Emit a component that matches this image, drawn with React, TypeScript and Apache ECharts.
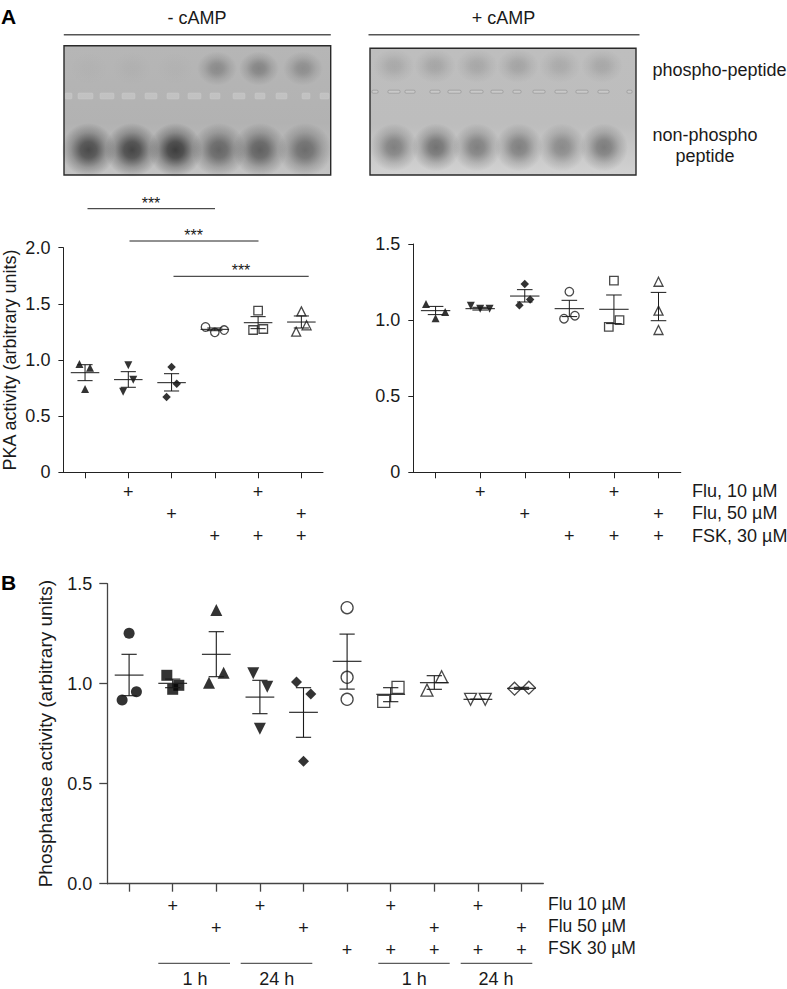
import React, { useEffect, useRef } from "react";
import * as echarts from "echarts";

const FONT = "'Liberation Sans', Arial, sans-serif";
const INK = "#1a1a1a";

// ---- treatment flags ----
const pkaFlu10 = ["", "+", "", "", "+", ""];
const pkaFlu50 = ["", "", "+", "", "", "+"];
const pkaFsk = ["", "", "", "+", "+", "+"];
const phFlu10 = ["", "+", "", "+", "", "", "+", "", "+", ""];
const phFlu50 = ["", "", "+", "", "+", "", "", "+", "", "+"];
const phFsk = ["", "", "", "", "", "+", "+", "+", "+", "+"];

// ---- PKA, - cAMP ----
const aLeftPoints = [
  [0.964, 0.93, 0.742],
  [0.953, 0.825, 0.718],
  [0.938, 0.789, 0.671],
  [1.294, 1.267, 1.246],
  [1.439, 1.267, 1.276],
  [1.433, 1.252, 1.309],
];
const aLeftJitter = [
  [-0.13, 0.115, 0],
  [0, 0.115, -0.12],
  [0, 0.12, -0.115],
  [-0.215, 0.215, 0],
  [0, -0.115, 0.12],
  [0, -0.12, 0.12],
];
const aLeftMean = [0.887, 0.825, 0.798, 1.273, 1.332, 1.338];
const aLeftUpper = [0.958, 0.896, 0.878, 1.285, 1.386, 1.392];
const aLeftLower = [0.816, 0.757, 0.724, 1.261, 1.279, 1.285];

// ---- PKA, + cAMP ----
const aRightPoints = [
  [1.106, 1.053, 1.012],
  [1.095, 1.075, 1.075],
  [1.237, 1.136, 1.097],
  [1.187, 1.029, 1.009],
  [1.259, 1.0, 0.955],
  [1.252, 1.062, 0.935],
];
const aRightJitter = [
  [-0.215, 0.215, 0],
  [-0.21, 0, 0.21],
  [0, 0.12, -0.12],
  [0, 0.125, -0.12],
  [0, 0.125, -0.115],
  [0, 0, 0],
];
const aRightMean = [1.062, 1.075, 1.158, 1.075, 1.071, null];
const aRightUpper = [1.09, 1.084, 1.2, 1.13, 1.165, 1.182];
const aRightLower = [1.036, 1.066, 1.119, 1.023, 0.977, 0.996];

// ---- Phosphatase ----
const bPoints = [
  [1.252, 0.96, 0.918],
  [1.042, 0.992, 0.972],
  [1.368, 1.055, 1.005],
  [1.052, 0.985, 0.775],
  [1.008, 0.948, 0.612],
  [1.38, 1.032, 0.922],
  [0.982, 0.912],
  [1.035, 0.968],
  [0.922, 0.922],
  [0.975, 0.98],
];
const bJitter = [
  [0, 0.168, -0.16],
  [-0.135, 0.14, 0],
  [0, 0.168, -0.168],
  [-0.153, 0.168, 0],
  [-0.16, 0.168, 0],
  [0, 0, 0],
  [0.168, -0.16],
  [0.168, -0.168],
  [-0.168, 0.168],
  [-0.16, 0.168],
];
const bMean = [1.043, 1.002, 1.147, 0.933, 0.857, 1.112, 0.947, 1.005, 0.922, 0.977];
const bUpper = [1.147, 1.023, 1.26, 1.017, 0.98, 1.248, 0.98, 1.04, 0.922, 0.982];
const bLower = [0.94, 0.98, 1.035, 0.85, 0.732, 0.973, 0.91, 0.972, 0.922, 0.972];

const aSymbols = ["triangle", "invTriangle", "diamond", "circle", "rect", "triangle"];
const aOpen = [false, false, false, true, true, true];
const aSizes = [8, 8, 8.5, 8.5, 8.5, 9];
const bSymbols = ["circle", "rect", "triangle", "invTriangle", "diamond", "circle", "rect", "triangle", "invTriangle", "diamond"];
const bOpen = [false, false, false, false, false, true, true, true, true, true];
const bSizes = [11, 11, 12, 12, 11, 12, 12, 12, 12, 13];

// ---- blot spots: lane x, intensity ----
const blot1Phospho = [[89, 0.02], [132, 0.03], [175, 0.02], [217, 0.28], [259, 0.32], [303, 0.26]];
const blot1Non = [[88.5, 0.72], [132, 0.75], [175.5, 0.8], [219, 0.55], [260, 0.58], [305, 0.5]];
const blot2Phospho = [[394, 0.13], [435, 0.15], [477, 0.14], [518, 0.16], [560, 0.12], [602, 0.14]];
const blot2Non = [[394, 0.42], [436, 0.5], [477, 0.42], [519, 0.42], [562, 0.36], [604, 0.44]];
const blot1Marks = [[65, 7], [78, 15], [100, 14], [122, 13], [145, 12], [167, 12], [188, 13], [210, 10], [233, 12], [255, 10], [276, 11], [302, 8], [320, 9]];
const blot2Marks = [[372, 6], [388, 12], [405, 10], [430, 10], [448, 13], [470, 13], [491, 12], [513, 8], [533, 12], [555, 12], [576, 12], [598, 11], [627, 5]];

function plusLines(rows: string[][], i: number) {
  return rows.map((r) => r[i] || " ").join("\n");
}

function semRenderer(meanHalf: number, capHalf: number, width: number) {
  return (_p: any, api: any) => {
    const x = api.value(0);
    const up = api.value(1);
    const lo = api.value(2);
    const mean = api.value(3);
    const seg = (x1: number, y1: number, x2: number, y2: number) => {
      const a = api.coord([x1, y1]);
      const b = api.coord([x2, y2]);
      return {
        type: "line",
        shape: { x1: a[0], y1: a[1], x2: b[0], y2: b[1] },
        style: { stroke: INK, lineWidth: width },
      };
    };
    const children: any[] = [
      seg(x, up, x, lo),
      seg(x - capHalf, up, x + capHalf, up),
      seg(x - capHalf, lo, x + capHalf, lo),
    ];
    if (!isNaN(mean)) children.push(seg(x - meanHalf, mean, x + meanHalf, mean));
    return { type: "group", children };
  };
}

function App() {
  const ref = useRef<HTMLDivElement>(null);

  useEffect(() => {
    const chart = echarts.init(ref.current!, undefined, { renderer: "svg" });

    const grids = [
      { left: 63.4, top: 247.7, width: 259.6, height: 224.6, outerBoundsMode: "none" },
      { left: 413.3, top: 244, width: 267.5, height: 228.3, outerBoundsMode: "none" },
      { left: 107.3, top: 583.7, width: 436, height: 300, outerBoundsMode: "none" },
    ];
    const panels = [
      { n: 6, rows: [pkaFlu10, pkaFlu50, pkaFsk], max: 2, pts: aLeftPoints, jit: aLeftJitter, mean: aLeftMean, up: aLeftUpper, lo: aLeftLower, sym: aSymbols, open: aOpen, sizes: aSizes, meanH: 0.33, capH: 0.175, zero: "0", name: "PKA activity (arbitrary units)", tick: 5, margin: 13, xTick: 6, lab: 9, col: "#222", w: 1 },
      { n: 6, rows: [pkaFlu10, pkaFlu50, pkaFsk], max: 1.5, pts: aRightPoints, jit: aRightJitter, mean: aRightMean, up: aRightUpper, lo: aRightLower, sym: aSymbols, open: aOpen, sizes: aSizes, meanH: 0.33, capH: 0.175, zero: "0", name: "", tick: 5, margin: 13, xTick: 6, lab: 9, col: "#222", w: 1 },
      { n: 10, rows: [phFlu10, phFlu50, phFsk], max: 1.5, pts: bPoints, jit: bJitter, mean: bMean, up: bUpper, lo: bLower, sym: bSymbols, open: bOpen, sizes: bSizes, meanH: 0.33, capH: 0.175, zero: "0.0", name: "Phosphatase activity (arbitrary units)", tick: 8, margin: 15, xTick: 8, lab: 11, col: "#444", w: 1.3 },
    ];

    const xAxis: any[] = [];
    const yAxis: any[] = [];
    const series: any[] = [];

    panels.forEach((p, gi) => {
      xAxis.push({
        type: "category",
        gridIndex: gi,
        data: Array.from({ length: p.n }, (_, i) => `G${i + 1}`),
        boundaryGap: true,
        axisLine: { show: true, lineStyle: { color: p.col, width: p.w } },
        axisTick: { show: true, alignWithLabel: true, length: p.xTick, lineStyle: { color: p.col, width: p.w } },
        axisLabel: {
          interval: 0,
          margin: p.lab,
          fontFamily: FONT,
          fontSize: 18,
          lineHeight: 22,
          color: INK,
          formatter: (_v: string, i: number) => plusLines(p.rows, i),
        },
      });
      const valIdx = xAxis.length;
      xAxis.push({ type: "value", gridIndex: gi, min: 0, max: p.n, show: false, splitLine: { show: false } });
      yAxis.push({
        type: "value",
        gridIndex: gi,
        min: 0,
        max: p.max,
        interval: 0.5,
        name: p.name,
        nameLocation: "middle",
        nameGap: gi === 2 ? 52 : 44,
        nameRotate: 90,
        nameTextStyle: { fontFamily: FONT, fontSize: gi === 2 ? 19 : 18, color: INK },
        splitLine: { show: false },
        axisLine: { show: true, lineStyle: { color: p.col, width: p.w } },
        axisTick: { show: true, length: p.tick, lineStyle: { color: p.col, width: p.w } },
        axisLabel: {
          fontFamily: FONT,
          fontSize: 18,
          color: INK,
          margin: p.margin,
          formatter: (v: number) => (v === 0 ? p.zero : v.toFixed(1)),
        },
      });

      p.pts.forEach((vals, g) => {
        const sym = p.sym[g];
        const inv = sym === "invTriangle";
        const open = p.open[g];
        series.push({
          type: "scatter",
          xAxisIndex: valIdx,
          yAxisIndex: gi,
          symbol: inv ? "triangle" : sym,
          symbolRotate: inv ? 180 : 0,
          symbolSize: p.sizes[g],
          silent: true,
          z: 2,
          itemStyle: open
            ? { color: "transparent", borderColor: INK, borderWidth: 1.3 }
            : { color: "#000" },
          data: vals.map((v, k) => [g + 0.5 + p.jit[g][k], v]),
        });
      });

      series.push({
        type: "custom",
        xAxisIndex: valIdx,
        yAxisIndex: gi,
        silent: true,
        z: 3,
        encode: { x: 0, y: 1 },
        renderItem: semRenderer(p.meanH, p.capH, gi === 2 ? 1.1 : 1),
        data: p.mean.map((m, g) => [g + 0.5, p.up[g], p.lo[g], m === null ? NaN : m]),
      });
    });

    const txt = (text: string, x: number, y: number, o: any = {}) => ({
      type: "text",
      x,
      y,
      z: 10,
      style: {
        text,
        fontFamily: FONT,
        fontSize: 18,
        fill: INK,
        align: "left",
        verticalAlign: "middle",
        ...o,
      },
    });
    const rule = (x1: number, x2: number, y: number, stroke = "#222", lineWidth = 1) => ({
      type: "line",
      z: 10,
      shape: { x1, y1: y, x2, y2: y },
      style: { stroke, lineWidth },
    });
    const spot = (cx: number, cy: number, rx: number, ry: number, a: number) => ({
      type: "ellipse",
      z: 6,
      shape: { cx, cy, rx, ry },
      style: {
        fill: {
          type: "radial",
          x: 0.5,
          y: 0.5,
          r: 0.5,
          colorStops: [
            { offset: 0, color: `rgba(30,30,30,${a})` },
            { offset: 0.3, color: `rgba(30,30,30,${a * 0.85})` },
            { offset: 0.65, color: `rgba(30,30,30,${a * 0.35})` },
            { offset: 1, color: "rgba(30,30,30,0)" },
          ],
        },
      },
    });
    const blotBg = (x: number, y: number, w: number, h: number, top: string, mid: string, bottom: string) => ({
      type: "rect",
      z: 5,
      shape: { x, y, width: w, height: h },
      style: {
        fill: {
          type: "linear",
          x: 0,
          y: 0,
          x2: 0,
          y2: 1,
          colorStops: [
            { offset: 0, color: top },
            { offset: 0.6, color: mid },
            { offset: 1, color: bottom },
          ],
        },
      },
    });
    const frame = (x: number, y: number, w: number, h: number) => ({
      type: "rect",
      z: 8,
      shape: { x, y, width: w, height: h },
      style: { fill: "none", stroke: "#2a2a2a", lineWidth: 1.4 },
    });
    const mark = (x: number, w: number, y: number, h: number, fill: string, stroke: string) => ({
      type: "rect",
      z: 7,
      shape: { x, y: y - h / 2, width: w, height: h, r: 1 },
      style: { fill, stroke, lineWidth: 0.7 },
    });

    const graphics: any[] = [
      txt("A", 1, 16, { fontWeight: "bold", fontSize: 21, fill: "#000" }),
      txt("B", 1, 582, { fontWeight: "bold", fontSize: 21, fill: "#000" }),
      txt("- cAMP", 197, 17.5, { align: "center" }),
      txt("+ cAMP", 503.5, 17.5, { align: "center" }),
      rule(63.8, 330.8, 34.7, "#555", 1.5),
      rule(368.5, 639.5, 34.7, "#555", 1.5),
      blotBg(64, 45.7, 266.7, 129.3, "#b6b6b6", "#b2b2b2", "#c4c4c4"),
      blotBg(370, 48.3, 266, 126.7, "#bebebe", "#bdbdbd", "#d2d2d2"),
      ...blot1Phospho.map(([x, a]) => spot(x, 68.5, 20, 17, a)),
      ...blot1Non.map(([x, a]) => spot(x, 150, 27, 27, a)),
      ...blot2Phospho.map(([x, a]) => spot(x, 66, 21, 17, a)),
      ...blot2Non.map(([x, a]) => spot(x, 147.5, 24, 24, a)),
      ...blot1Marks.map(([x, w]) => mark(x, w, 96, 6, "rgba(216,216,216,0.4)", "rgba(205,205,205,0.55)")),
      ...blot2Marks.map(([x, w]) => mark(x, w, 91.7, 3, "rgba(214,214,214,0.5)", "rgba(110,110,110,0.5)")),
      frame(64, 45.7, 266.7, 129.3),
      frame(370, 48.3, 266, 126.7),
      txt("phospho-peptide", 652.5, 69.5),
      txt("non-phospho", 652.5, 134.5),
      txt("peptide", 675.5, 156),
      rule(87.5, 215, 208.7),
      rule(129.5, 258.5, 241),
      rule(173.5, 308.7, 276.3),
      txt("***", 151, 203, { align: "center", fontSize: 16 }),
      txt("***", 193.7, 235, { align: "center", fontSize: 16 }),
      txt("***", 241, 270, { align: "center", fontSize: 16 }),
      txt("Flu, 10 µM", 692, 490.5),
      txt("Flu, 50 µM", 692, 513),
      txt("FSK, 30 µM", 692, 535.5),
      txt("Flu 10 µM", 548, 904, { fontSize: 17.5 }),
      txt("Flu 50 µM", 548, 926, { fontSize: 17.5 }),
      txt("FSK 30 µM", 548, 948, { fontSize: 17.5 }),
      rule(158.3, 230, 963.3, "#333"),
      rule(240.7, 312.3, 963.3, "#333"),
      rule(378.3, 449.7, 963.3, "#333"),
      rule(460.7, 532.3, 963.3, "#333"),
      txt("1 h", 195, 979, { align: "center" }),
      txt("24 h", 276.7, 979, { align: "center" }),
      txt("1 h", 414.3, 979, { align: "center" }),
      txt("24 h", 496, 979, { align: "center" }),
    ];

    chart.setOption({
      animation: false,
      backgroundColor: "#fff",
      grid: grids,
      xAxis,
      yAxis,
      series,
      graphic: { elements: graphics },
    });
    return () => chart.dispose();
  }, []);

  return <div ref={ref} style={{ position: "absolute", left: 0, top: 0, width: 787, height: 989 }} />;
}

export default App;
